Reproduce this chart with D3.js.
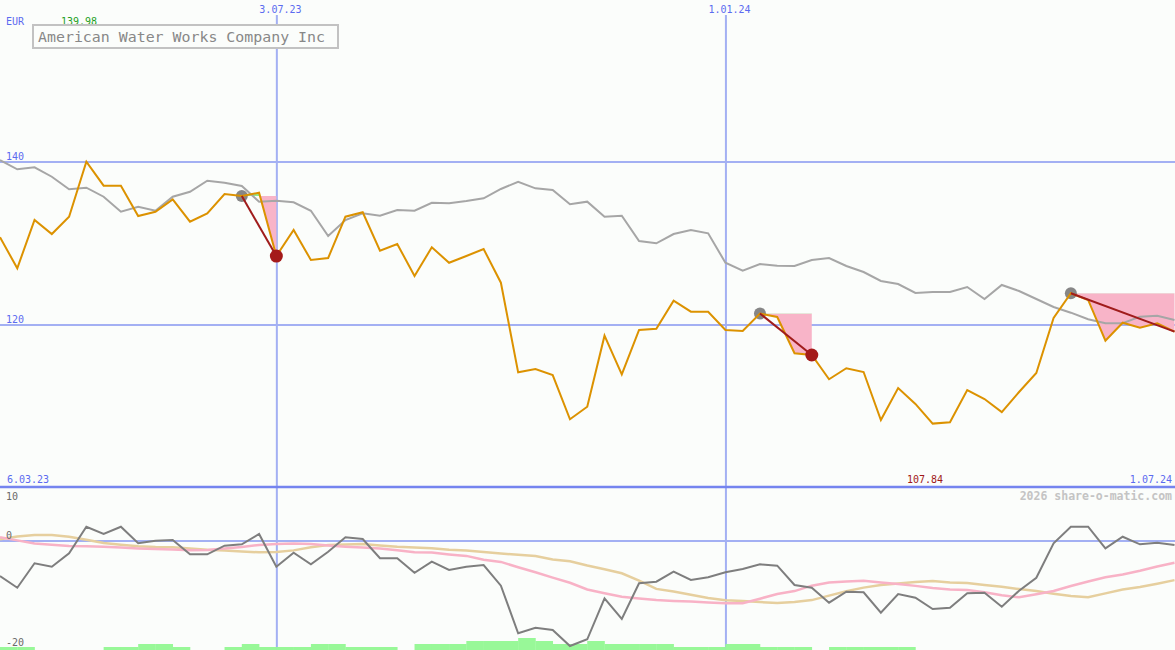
<!DOCTYPE html>
<html>
<head>
<meta charset="utf-8">
<script src="https://cdn.jsdelivr.net/npm/d3@7"></script>
<style>
  html, body { margin: 0; padding: 0; background: #fbfdfb; }
  svg { display: block; }
  text { font-family: "DejaVu Sans Mono", "Liberation Mono", monospace; }
</style>
</head>
<body>
<svg id="chart" width="1175" height="650"></svg>
<script>
// ---------- data ----------
const firstWeek = "2023-03-13";
const weekCount = 69;
const price = [130.70,126.90,132.82,131.10,133.23,139.98,137.03,137.03,133.31,133.84,
  135.36,132.61,133.64,136.01,135.77,136.17,128.40,131.60,127.91,128.16,
  133.23,133.77,129.06,129.88,125.95,129.47,127.58,128.40,129.26,125.13,
  114.13,114.54,113.80,108.37,109.91,118.63,113.89,119.33,119.48,122.92,
  121.57,121.57,119.33,119.20,121.35,120.92,116.47,116.26,113.28,114.63,
  114.17,108.28,112.21,110.25,107.84,108.00,111.96,110.86,109.26,111.72,
  114.05,120.80,123.83,123.01,118.01,120.22,119.61,120.15,119.12];
const movingAvg = [140.18,139.04,139.29,138.13,136.59,136.79,135.68,133.84,134.45,133.96,
  135.68,136.29,137.64,137.40,136.99,135.07,135.19,134.99,133.96,130.86,
  132.82,133.64,133.35,134.05,133.96,134.94,134.87,135.15,135.48,136.63,
  137.52,136.71,136.50,134.75,135.07,133.23,133.35,130.25,129.96,131.10,
  131.60,131.19,127.58,126.60,127.42,127.21,127.18,127.91,128.16,127.18,
  126.44,125.34,124.97,123.87,123.99,123.99,124.60,123.13,124.85,124.11,
  123.13,122.15,121.45,120.64,120.15,120.15,120.96,121.08,120.55];
const oscillator = [-6.86,-9.16,-4.37,-5.04,-2.41,2.80,1.37,2.80,-0.45,0.06,
  0.20,-2.61,-2.61,-0.92,-0.65,1.37,-5.04,-2.29,-4.57,-2.10,
  0.73,0.39,-3.39,-3.39,-6.22,-4.06,-5.69,-5.04,-4.71,-8.76,
  -18.10,-17.00,-17.45,-20.59,-19.27,-11.24,-15.29,-8.29,-7.98,-6.02,
  -7.65,-7.12,-6.14,-5.49,-4.57,-4.84,-8.63,-9.16,-12.10,-9.94,
  -10.06,-14.06,-10.39,-11.12,-13.33,-13.08,-10.25,-10.14,-12.88,-9.75,
  -7.20,-0.45,2.80,2.80,-1.43,0.84,-0.65,-0.33,-0.78];
const oscPink = [0.73,0.12,-0.47,-0.73,-0.98,-1.04,-1.14,-1.29,-1.45,-1.55,
  -1.67,-1.82,-1.76,-1.47,-1.18,-0.78,-0.61,-0.47,-0.61,-0.90,
  -1.12,-1.29,-1.49,-1.80,-2.20,-2.27,-2.63,-2.92,-3.69,-4.10,
  -5.14,-6.12,-7.18,-8.18,-9.51,-10.25,-10.92,-11.29,-11.59,-11.75,
  -11.88,-12.06,-12.22,-12.22,-11.31,-10.39,-9.82,-8.76,-8.12,-7.94,
  -7.78,-8.12,-8.41,-8.80,-9.22,-9.53,-9.63,-10.06,-10.63,-11.04,
  -10.45,-9.80,-8.82,-7.94,-7.10,-6.55,-5.84,-5.00,-4.27];
const oscTan = [0.33,0.86,1.18,1.18,0.82,0.25,-0.39,-0.73,-1.02,-1.16,
  -1.22,-1.47,-1.71,-1.86,-2.04,-2.22,-2.16,-1.84,-1.24,-0.80,
  -0.67,-0.59,-0.90,-1.14,-1.29,-1.41,-1.71,-1.88,-2.18,-2.43,
  -2.71,-2.96,-3.61,-3.96,-4.80,-5.55,-6.33,-7.76,-9.39,-9.92,
  -10.55,-11.16,-11.63,-11.78,-11.96,-12.18,-11.96,-11.59,-10.71,-9.84,
  -9.14,-8.61,-8.33,-8.06,-7.86,-8.12,-8.25,-8.61,-8.98,-9.43,
  -9.82,-10.33,-10.80,-11.04,-10.27,-9.53,-9.02,-8.37,-7.67];
const volume = [1,1,0,0,0,0,1,1,2,2, 1,0,0,1,2,1,1,1,2,2,
  1,1,1,0,2,2,2,3,3,3, 4,3,2,2,3,2,2,2,2,1,
  1,1,2,2,1,1,1,0,1,1, 1,1,1,0,0,0,0,0,0,0,
  0,0,0,0,0,0,0,0,0];
const signalStart = [14, 44, 62];
const signalEnd = [16, 47, 68];
const signalClosed = [true, true, false];
const priceTicks = [140, 120];
const oscTicks = [10, 0, -20];
const dateGrid = ["2023-07-03", "2024-01-01"];
const dateGridLabels = ["3.07.23", "1.01.24"];
const title = "American Water Works Company Inc";
const currency = "EUR";
const maxLabel = "139.98";
const minLabel = "107.84";
const startLabel = "6.03.23";
const endLabel = "1.07.24";
const credit = "2026 share-o-matic.com";

// ---------- setup ----------
const W = 1175, H = 650;
const parse = d3.timeParse("%Y-%m-%d");
const dates = d3.range(weekCount).map(i => d3.timeWeek.offset(parse(firstWeek), i));
const svg = d3.select("#chart");
svg.append("rect").attr("width", W).attr("height", H).attr("fill", "#fbfdfb");

const x = d3.scaleTime().domain([dates[0], dates[weekCount - 1]]).range([0, W - 0.5]);
const yMain = d3.scaleLinear().domain([120, 140]).range([324.5, 161.5]);
const yOsc = d3.scaleLinear().domain([-20, 0]).range([643, 541]);
const yVol = d3.scaleLinear().domain([0, 4]).range([650, 638]);
const sepY = 487;
const gridColor = "#a3b0f3";
const blue = "#5b6bf0";

// ---------- grid ----------
const gy = svg.append("g").attr("class", "price-grid")
  .call(d3.axisRight(yMain).tickValues(priceTicks).tickSize(W).tickFormat(d3.format("d")));
gy.select(".domain").remove();
gy.selectAll("line").attr("stroke", gridColor).attr("stroke-width", 2);
gy.selectAll("text").attr("x", 6).attr("dy", 0).attr("y", -2.5)
  .attr("text-anchor", "start").attr("fill", blue).attr("font-size", 10)
  .attr("font-family", "DejaVu Sans Mono, monospace");

const gx = svg.append("g").attr("class", "date-grid")
  .attr("transform", `translate(0,${H})`)
  .call(d3.axisTop(x).tickValues(dateGrid.map(parse)).tickSize(H - 15).tickFormat(""));
gx.select(".domain").remove();
gx.selectAll("line").attr("stroke", gridColor).attr("stroke-width", 2);

svg.selectAll(".dlabel").data(dateGrid).join("text")
  .attr("class", "dlabel")
  .attr("x", d => x(parse(d)) - 17).attr("y", 13)
  .attr("fill", blue).attr("font-size", 10)
  .text((d, i) => dateGridLabels[i]);

// oscillator zero line
svg.append("line").attr("x1", 0).attr("x2", W)
  .attr("y1", yOsc(0)).attr("y2", yOsc(0))
  .attr("stroke", gridColor).attr("stroke-width", 2);

// separator
svg.append("line").attr("x1", 0).attr("x2", W).attr("y1", sepY).attr("y2", sepY)
  .attr("stroke", "#7584ef").attr("stroke-width", 2.5);

// ---------- signal fills ----------
const defs = svg.append("defs");
signalStart.forEach((s, k) => {
  const e = signalEnd[k];
  const base = yMain(price[s]);
  defs.append("clipPath").attr("id", "above" + k)
    .append("rect").attr("x", 0).attr("y", 0).attr("width", W).attr("height", base);
  defs.append("clipPath").attr("id", "below" + k)
    .append("rect").attr("x", 0).attr("y", base).attr("width", W).attr("height", sepY - base);
  const idx = d3.range(s, e + 1);
  const area = d3.area().x(i => x(dates[i])).y0(base).y1(i => yMain(price[i]));
  svg.append("path").datum(idx).attr("d", area).attr("fill", "#90ea90")
    .attr("clip-path", `url(#above${k})`);
  svg.append("path").datum(idx).attr("d", area).attr("fill", "#f8b4c8")
    .attr("clip-path", `url(#below${k})`);
});

// ---------- lines ----------
const idxAll = d3.range(weekCount);
const lineOf = (arr, y) => d3.line().x(i => x(dates[i])).y(i => y(arr[i]));

svg.append("path").datum(idxAll).attr("d", lineOf(movingAvg, yMain))
  .attr("fill", "none").attr("stroke", "#a6a6a6").attr("stroke-width", 2);

// start circles
svg.selectAll(".sdot").data(signalStart).join("circle").attr("class", "sdot")
  .attr("cx", i => x(dates[i])).attr("cy", i => yMain(price[i])).attr("r", 6)
  .attr("fill", "#868686");

svg.append("path").datum(idxAll).attr("d", lineOf(price, yMain))
  .attr("fill", "none").attr("stroke", "#dc9200").attr("stroke-width", 2);

// signal lines
signalStart.forEach((s, k) => {
  const e = signalEnd[k];
  svg.append("line")
    .attr("x1", x(dates[s])).attr("y1", yMain(price[s]))
    .attr("x2", x(dates[e])).attr("y2", yMain(price[e]))
    .attr("stroke", "#a01c1c").attr("stroke-width", 2);
});
svg.selectAll(".edot").data(signalEnd.filter((e, k) => signalClosed[k])).join("circle")
  .attr("class", "edot")
  .attr("cx", i => x(dates[i])).attr("cy", i => yMain(price[i])).attr("r", 6.5)
  .attr("fill", "#a41a1a");

// ---------- lower panel ----------
const bw = x(dates[1]) - x(dates[0]);
svg.selectAll(".vol").data(idxAll.filter(i => volume[i] > 0)).join("rect")
  .attr("class", "vol")
  .attr("x", i => x(dates[i])).attr("width", bw + 0.3)
  .attr("y", i => yVol(volume[i])).attr("height", i => yVol(0) - yVol(volume[i]))
  .attr("fill", "#98f898");

svg.append("path").datum(idxAll).attr("d", lineOf(oscTan, yOsc))
  .attr("fill", "none").attr("stroke", "#e6cf9e").attr("stroke-width", 2.5);
svg.append("path").datum(idxAll).attr("d", lineOf(oscPink, yOsc))
  .attr("fill", "none").attr("stroke", "#f8b2c6").attr("stroke-width", 2.5);
svg.append("path").datum(idxAll).attr("d", lineOf(oscillator, yOsc))
  .attr("fill", "none").attr("stroke", "#7e7e7e").attr("stroke-width", 2);

// oscillator labels
svg.selectAll(".olabel").data(oscTicks).join("text").attr("class", "olabel")
  .attr("x", 6).attr("y", d => d === 10 ? yOsc(d) + 10 : d === 0 ? yOsc(d) - 2.5 : yOsc(d) + 3)
  .attr("fill", "#6a6a6a").attr("font-size", 10).text(d => d);

// ---------- texts ----------
svg.append("text").attr("x", 6).attr("y", 25).attr("fill", blue).attr("font-size", 10).text(currency);
svg.append("text").attr("x", 61).attr("y", 25).attr("fill", "#22a022").attr("font-size", 10).text(maxLabel);
svg.append("text").attr("x", 7).attr("y", 483).attr("fill", blue).attr("font-size", 10).text(startLabel);
svg.append("text").attr("x", 907).attr("y", 483).attr("fill", "#a01818").attr("font-size", 10).text(minLabel);
svg.append("text").attr("x", 1172).attr("y", 483).attr("text-anchor", "end")
  .attr("fill", blue).attr("font-size", 10).text(endLabel);
svg.append("text").attr("x", 1172).attr("y", 500).attr("text-anchor", "end")
  .attr("fill", "#c4c4c4").attr("font-size", 11.5).attr("font-weight", "bold").text(credit);

// title box
svg.append("rect").attr("x", 33).attr("y", 25).attr("width", 305).attr("height", 23)
  .attr("fill", "#fbfdfb").attr("stroke", "#c2c2c2").attr("stroke-width", 2);
svg.append("text").attr("x", 38).attr("y", 41.5).attr("fill", "#888888")
  .attr("font-size", 14).attr("textLength", 287).attr("lengthAdjust", "spacingAndGlyphs")
  .text(title);
</script>
</body>
</html>
